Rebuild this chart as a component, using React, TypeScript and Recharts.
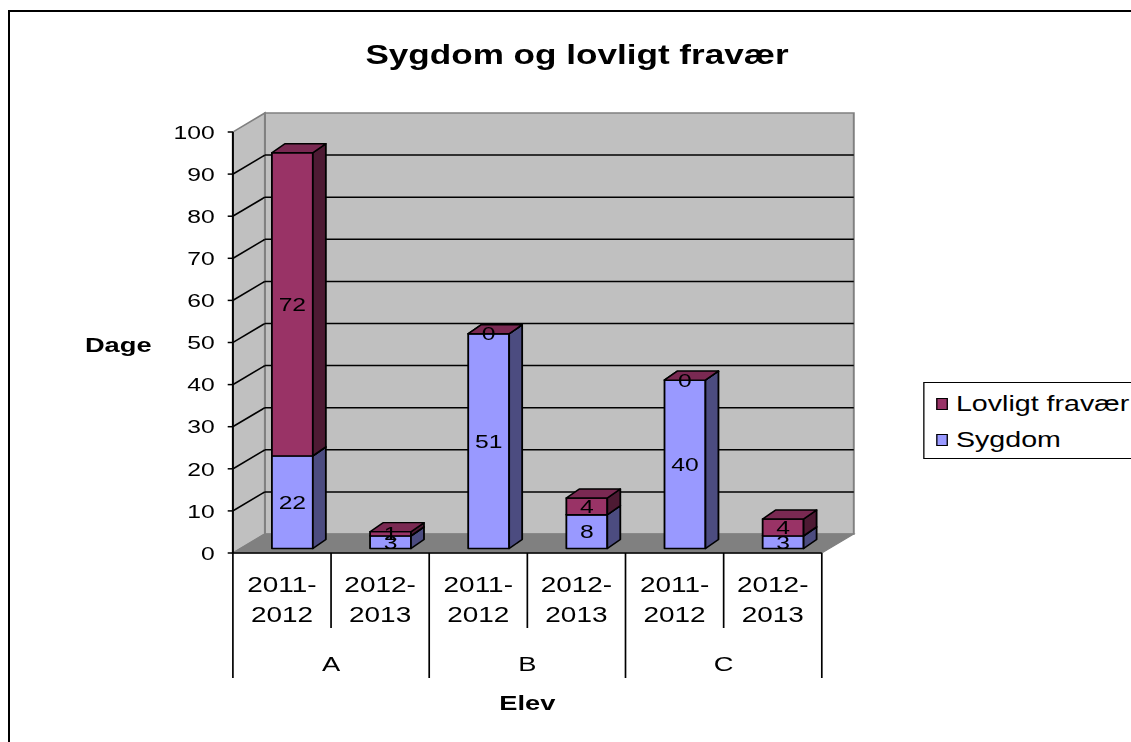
import { BarChart, Bar, XAxis, YAxis, CartesianGrid, LabelList } from "recharts";

// data
const elever = ["A", "B", "C"];
const skoleaar = ["2011-2012", "2012-2013"];
const sygdom = [22, 3, 51, 8, 40, 3];
const lovligtFravaer = [72, 1, 0, 4, 0, 4];
const yTicks = [0, 10, 20, 30, 40, 50, 60, 70, 80, 90, 100];

const data = sygdom.map((s, i) => ({
  slot: `${elever[Math.floor(i / 2)]} ${skoleaar[i % 2]}`,
  elev: elever[Math.floor(i / 2)],
  year: skoleaar[i % 2],
  sygdom: s,
  lovligt: lovligtFravaer[i],
}));

const FONT = "'Liberation Sans', Arial, sans-serif";
const SX = 1.3; // the original picture is stretched horizontally
const W = 864;
const H = 734;
const MARGIN = { top: 124, right: 238, bottom: 19, left: 113 };
const PLOT_H = H - MARGIN.top - MARGIN.bottom - 170;

// wall depth and bar depth
const DX = 24.6;
const DY = -19;
const BDX = 10;
const BDY = -9;
const SHIFT_X = 8;
const SHIFT_Y = -4.5;

const colors = {
  sygdom: { front: "#9999ff", top: "#7a7acc", side: "#4c4c80" },
  lovligt: { front: "#993366", top: "#7a2952", side: "#4d1a33" },
};

const Bar3D = (p: any) => {
  const { x, y, width, height, c, topColor } = p;
  if (x == null || y == null) return null;
  const fx = x + SHIFT_X;
  const fy = y + SHIFT_Y;
  const h = Math.max(height || 0, 0);
  const st = { stroke: "#000", strokeWidth: 1.4, strokeLinejoin: "round" as const };
  return (
    <g>
      <rect x={fx} y={fy} width={width} height={h} fill={c.front} {...st} />
      <polygon
        points={`${fx + width},${fy} ${fx + width + BDX},${fy + BDY} ${fx + width + BDX},${fy + h + BDY} ${fx + width},${fy + h}`}
        fill={c.side}
        {...st}
      />
      <polygon
        points={`${fx},${fy} ${fx + BDX},${fy + BDY} ${fx + width + BDX},${fy + BDY} ${fx + width},${fy}`}
        fill={topColor || c.top}
        {...st}
      />
    </g>
  );
};

const SegLabel = (p: any) => {
  const vb = p.viewBox || p;
  const { x, y, width, height } = vb;
  if (x == null) return null;
  return (
    <text
      x={x + width / 2 + SHIFT_X}
      y={y + height / 2 + SHIFT_Y}
      textAnchor="middle"
      dominantBaseline="central"
      fontSize={19}
      fill="#000"
      fontFamily={FONT}
    >
      {p.value}
    </text>
  );
};

const wallsGrid = (p: any) => {
  if (p.index !== 0) return <g key={`w-${p.index}`} />;
  const left = p.x1;
  const right = p.x2;
  const top = p.y ?? MARGIN.top;
  const bottom = top + (p.height ?? PLOT_H);
  return (
    <g key="walls">
      <rect x={left + DX} y={top + DY} width={right - left} height={bottom - top} fill="#c0c0c0" stroke="#808080" strokeWidth={1.5} />
      <polygon
        points={`${left},${top} ${left + DX},${top + DY} ${left + DX},${bottom + DY} ${left},${bottom}`}
        fill="#c0c0c0"
        stroke="#808080"
        strokeWidth={1.5}
      />
      <polygon
        points={`${left},${bottom} ${right},${bottom} ${right + DX},${bottom + DY} ${left + DX},${bottom + DY}`}
        fill="#808080"
        stroke="#808080"
        strokeWidth={1}
      />
    </g>
  );
};

const linesGrid = (p: any) => {
  const top = p.y ?? MARGIN.top;
  const bottom = top + (p.height ?? PLOT_H);
  if (Math.abs(p.y1 - top) < 0.5 || Math.abs(p.y1 - bottom) < 0.5) return <g key={`l-${p.index}`} />;
  return (
    <g key={`l-${p.index}`}>
      <line x1={p.x1} y1={p.y1} x2={p.x1 + DX} y2={p.y1 + DY} stroke="#000" strokeWidth={1.5} />
      <line x1={p.x1 + DX} y1={p.y1 + DY} x2={p.x2 + DX} y2={p.y1 + DY} stroke="#000" strokeWidth={1.5} />
    </g>
  );
};

const CatTick = (p: any) => {
  const { x, y, payload } = p;
  const i = payload?.index ?? p.index ?? 0;
  const half = payload?.offset || (W - MARGIN.left - 60 - MARGIN.right) / data.length / 2;
  const d = data[i];
  if (!d) return null;
  const [a, b] = d.year.split("-");
  const sep = (xx: number, long: boolean) => (
    <line x1={xx} y1={y} x2={xx} y2={y + (long ? 125 : 75)} stroke="#000" strokeWidth={1.3} />
  );
  return (
    <g fontFamily={FONT} fontSize={21.5} fill="#000">
      {sep(x - half, i % 2 === 0)}
      {i === data.length - 1 && sep(x + half, true)}
      <text x={x} y={y + 31} textAnchor="middle" dominantBaseline="central">{a}-</text>
      <text x={x} y={y + 61} textAnchor="middle" dominantBaseline="central">{b}</text>
      {i % 2 === 1 && (
        <text x={x - half} y={y + 111} textAnchor="middle" dominantBaseline="central" fontSize={21}>
          {d.elev}
        </text>
      )}
    </g>
  );
};

const legendItems = [
  { name: "Lovligt fravær", color: colors.lovligt.front },
  { name: "Sygdom", color: colors.sygdom.front },
];

export default function App() {
  return (
    <div
      style={{
        position: "fixed",
        left: 0,
        top: 0,
        width: 1131,
        height: 742,
        overflow: "hidden",
        background: "#fff",
        fontFamily: FONT,
      }}
    >
      <div
        style={{
          position: "absolute",
          left: 8,
          top: 10,
          width: 1200,
          height: 800,
          border: "2px solid #000",
          boxSizing: "border-box",
        }}
      />
      <div
        style={{
          position: "absolute",
          left: 8,
          top: 8,
          width: W,
          height: H,
          transform: `scaleX(${SX})`,
          transformOrigin: "0 0",
        }}
      >
        <div
          style={{
            position: "absolute",
            left: 237.7,
            width: 400,
            top: 33,
            textAlign: "center",
            fontSize: 27,
            lineHeight: "28px",
            fontWeight: "bold",
            color: "#000",
          }}
        >
          Sygdom og lovligt fravær
        </div>
        <div
          style={{
            position: "absolute",
            left: 704,
            top: 374,
            width: 220,
            height: 77,
            border: "1.5px solid #000",
            boxSizing: "border-box",
            background: "#fff",
            zIndex: 2,
          }}
        >
          {legendItems.map((it, k) => (
            <div key={it.name} style={{ position: "absolute", left: 9, top: 8 + k * 36, height: 26, display: "flex", alignItems: "center" }}>
              <div style={{ width: 9.2, height: 12, background: it.color, border: "1.2px solid #000", boxSizing: "border-box" }} />
              <span style={{ marginLeft: 6, fontSize: 22, lineHeight: "26px", color: "#000", whiteSpace: "nowrap" }}>{it.name}</span>
            </div>
          ))}
        </div>
        <BarChart width={W} height={H} data={data} margin={MARGIN} barSize={31.5} style={{ fontFamily: FONT }}>
          <CartesianGrid vertical={false} horizontal={wallsGrid} />
          <CartesianGrid vertical={false} horizontal={linesGrid} />
          <XAxis
            dataKey="slot"
            height={170}
            interval={0}
            tickSize={0}
            tickMargin={0}
            tickLine={false}
            axisLine={{ stroke: "#000", strokeWidth: 1.5 }}
            tick={<CatTick />}
            label={{
              content: (lp: any) => {
                const vb = lp.viewBox || {};
                return (
                  <text x={vb.x + vb.width / 2} y={vb.y + 150} textAnchor="middle" dominantBaseline="central" fontWeight="bold" fontSize={21} fill="#000" fontFamily={FONT}>
                    Elev
                  </text>
                );
              },
            }}
          />
          <YAxis
            width={60}
            domain={[0, 100]}
            ticks={yTicks}
            interval={0}
            tickSize={4}
            tickMargin={10}
            tickLine={{ stroke: "#000", strokeWidth: 1.5 }}
            axisLine={{ stroke: "#000", strokeWidth: 1.5 }}
            tick={{ fill: "#000", fontSize: 19, fontFamily: FONT }}
            label={{
              content: (lp: any) => {
                const vb = lp.viewBox || {};
                return (
                  <text x={vb.x - 2.5} y={vb.y + vb.height / 2 + 2} textAnchor="end" dominantBaseline="central" fontWeight="bold" fontSize={21} fill="#000" fontFamily={FONT}>
                    Dage
                  </text>
                );
              },
            }}
          />
          <Bar
            dataKey="sygdom"
            stackId="s"
            isAnimationActive={false}
            shape={(p: any) => (
              <Bar3D {...p} c={colors.sygdom} topColor={p.payload && p.payload.lovligt === 0 ? colors.lovligt.top : undefined} />
            )}
          >
            <LabelList dataKey="sygdom" content={<SegLabel />} />
          </Bar>
          <Bar dataKey="lovligt" stackId="s" isAnimationActive={false} shape={(p: any) => <Bar3D {...p} c={colors.lovligt} />}>
            <LabelList dataKey="lovligt" content={<SegLabel />} />
          </Bar>
        </BarChart>
      </div>
    </div>
  );
}
